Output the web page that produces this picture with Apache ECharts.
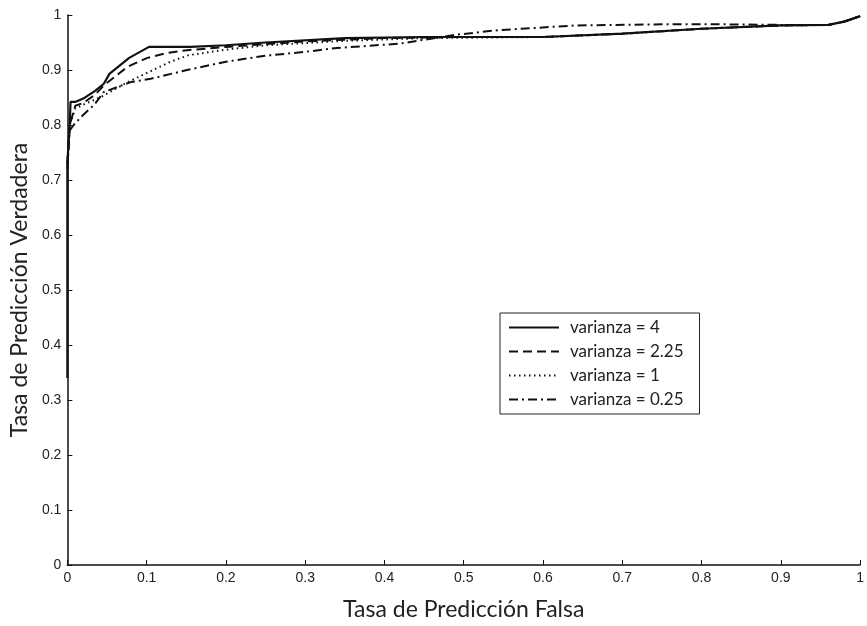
<!DOCTYPE html>
<html>
<head>
<meta charset="utf-8">
<script src="https://cdn.jsdelivr.net/npm/echarts@6/dist/echarts.min.js"></script>
<style>
  html, body { margin: 0; padding: 0; background: #fff; }
  #main { width: 867px; height: 626px; }
</style>
</head>
<body>
<div id="main"></div>
<script>
// curvas ROC: [tasa falsa, tasa verdadera]
var names = ['varianza = 4', 'varianza = 2.25', 'varianza = 1', 'varianza = 0.25'];

var roc4 = [[0, 0.34], [0, 0.73], [0.003, 0.80], [0.004, 0.842], [0.01, 0.842], [0.02, 0.848],
  [0.035, 0.862], [0.046, 0.875], [0.053, 0.893], [0.078, 0.922], [0.103, 0.942], [0.155, 0.942],
  [0.2, 0.945], [0.25, 0.95], [0.35, 0.958], [0.45, 0.96], [0.6, 0.96], [0.7, 0.966],
  [0.8, 0.975], [0.9, 0.981], [0.96, 0.982], [0.98, 0.988], [1, 0.998]];

var roc225 = [[0, 0.73], [0.003, 0.80], [0.01, 0.835], [0.02, 0.84], [0.035, 0.855],
  [0.046, 0.872], [0.076, 0.906], [0.101, 0.922], [0.126, 0.931], [0.151, 0.936], [0.2, 0.942],
  [0.3, 0.952], [0.4, 0.958], [0.5, 0.96], [0.6, 0.96], [0.7, 0.966], [0.8, 0.975],
  [0.9, 0.981], [0.96, 0.982], [0.98, 0.988], [1, 0.998]];

var roc1 = [[0, 0.73], [0.003, 0.80], [0.01, 0.83], [0.02, 0.837], [0.0425, 0.851],
  [0.076, 0.878], [0.101, 0.895], [0.13, 0.915], [0.153, 0.927], [0.2, 0.937], [0.25, 0.945],
  [0.35, 0.953], [0.45, 0.958], [0.6, 0.96], [0.7, 0.966], [0.8, 0.975], [0.9, 0.981],
  [0.96, 0.982], [0.98, 0.988], [1, 0.998]];

var roc025 = [[0, 0.72], [0.003, 0.79], [0.008, 0.80], [0.0175, 0.815], [0.034, 0.837],
  [0.046, 0.86], [0.08, 0.878], [0.105, 0.884], [0.151, 0.90], [0.2, 0.915], [0.25, 0.926],
  [0.3, 0.933], [0.34, 0.94], [0.42, 0.948], [0.45, 0.955], [0.49, 0.964], [0.54, 0.972],
  [0.64, 0.981], [0.75, 0.983], [0.83, 0.983], [0.9, 0.982], [0.96, 0.982], [0.98, 0.988],
  [1, 0.998]];

var lineTypes = ['solid', [9, 5], [1.5, 3.5], [9, 4, 2, 4]];
var seriesData = [roc4, roc225, roc1, roc025];

var chartDom = document.getElementById('main');
var myChart = echarts.init(chartDom);
var tickFont = '"Liberation Sans Narrow", "Arial Narrow", "Liberation Sans", sans-serif';
var option;

option = {
    animation: false,
    backgroundColor: '#fff',
    grid: { left: 66, right: 1, top: 15, bottom: 60 },
    legend: {
        orient: 'vertical',
        left: 500,
        top: 313,
        data: names,
        itemWidth: 50,
        itemHeight: 12,
        itemGap: 7,
        padding: [6, 16, 6, 8],
        borderColor: '#222',
        borderWidth: 1,
        backgroundColor: '#fff',
        itemStyle: { opacity: 0 },
        textStyle: { fontFamily: 'Lato', fontSize: 17, color: '#222', padding: [0, 0, 0, 6] }
    },
    xAxis: {
        type: 'value',
        min: 0,
        max: 1,
        interval: 0.1,
        name: 'Tasa de Predicción Falsa',
        nameLocation: 'middle',
        nameGap: 33,
        nameTextStyle: { fontFamily: 'Lato', fontSize: 23, color: '#222' },
        axisLine: { lineStyle: { color: '#111', width: 1.5 } },
        axisTick: { inside: true, length: 5, lineStyle: { color: '#111' } },
        axisLabel: { fontFamily: tickFont, fontSize: 14, color: '#222', margin: 6 },
        splitLine: { show: false }
    },
    yAxis: {
        type: 'value',
        min: 0,
        max: 1,
        interval: 0.1,
        name: 'Tasa de Predicción Verdadera',
        nameLocation: 'middle',
        nameGap: 34,
        nameTextStyle: { fontFamily: 'Lato', fontSize: 23, color: '#222' },
        axisLine: { show: true, lineStyle: { color: '#111', width: 1.5 } },
        axisTick: { show: true, inside: true, length: 5, lineStyle: { color: '#111' } },
        axisLabel: { fontFamily: tickFont, fontSize: 14, color: '#222', margin: 6 },
        splitLine: { show: false }
    },
    series: names.map(function (n, i) {
        return {
            name: n,
            type: 'line',
            symbol: 'none',
            data: seriesData[i],
            itemStyle: { color: '#111' },
            lineStyle: { color: '#111', width: i === 0 ? 2.2 : 2, type: lineTypes[i] }
        };
    })
};

option && myChart.setOption(option);
</script>
</body>
</html>
